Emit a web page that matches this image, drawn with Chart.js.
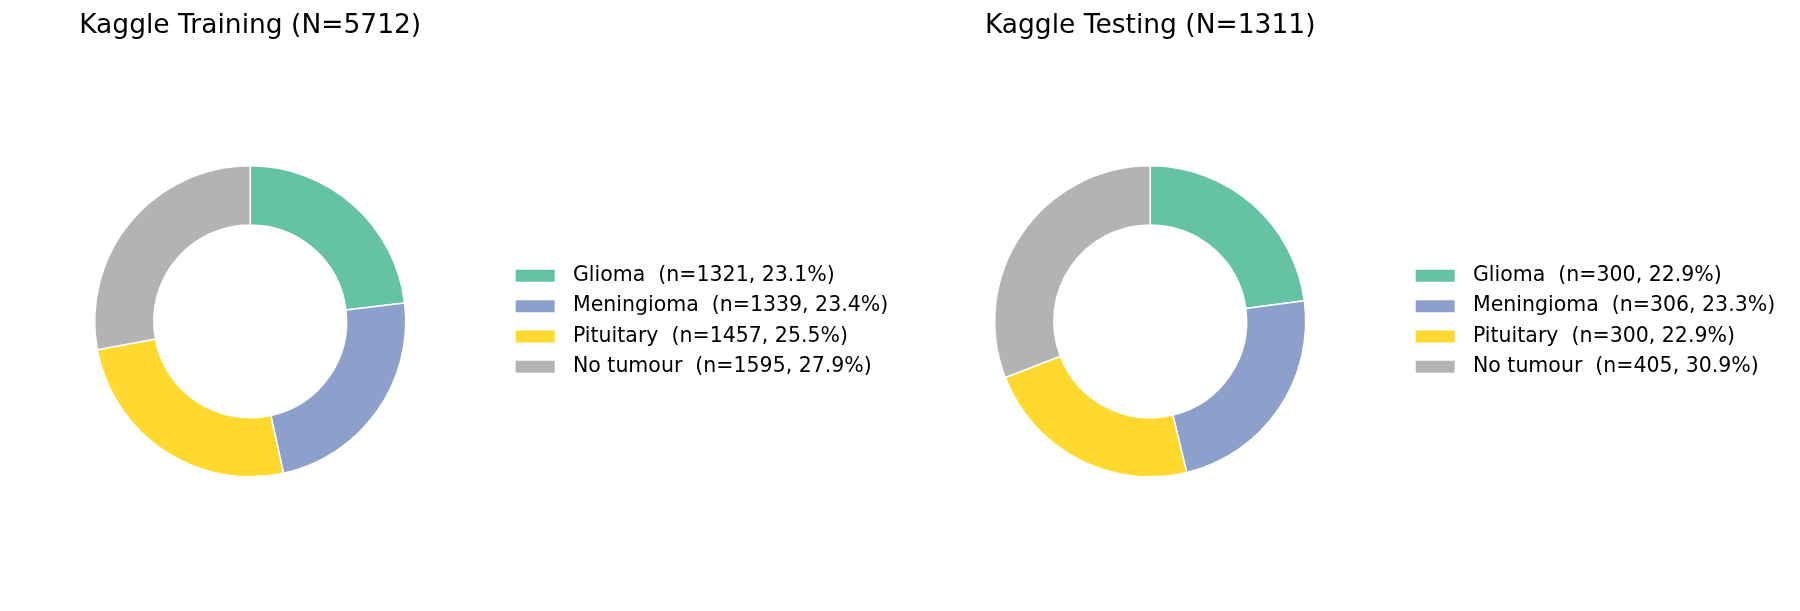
<!DOCTYPE html>
<html>
<head>
<meta charset="utf-8">
<script src="https://cdn.jsdelivr.net/npm/chart.js@4/dist/chart.umd.min.js"></script>
<style>
  html, body { margin: 0; padding: 0; background: #fff; overflow: hidden; }
  .row { display: flex; width: 1800px; height: 611px; margin-left: -5px; }
  canvas { display: block; flex: none; }
</style>
</head>
<body>
<div class="row">
  <canvas id="train" width="900" height="611"></canvas>
  <canvas id="test" width="900" height="611"></canvas>
</div>
<script>
const categories = ['Glioma', 'Meningioma', 'Pituitary', 'No tumour'];
const trainCounts = [1321, 1339, 1457, 1595];
const testCounts = [300, 306, 300, 405];
const colours = ['#66c2a5', '#8da0cb', '#ffd92f', '#b3b3b3'];

Chart.defaults.font.family = "'DejaVu Sans', sans-serif";
Chart.defaults.color = '#000';

// where the legend box should start inside each canvas
const LEGEND_LEFT = 510.4;

function makeDonut(id, name, counts) {
  const total = counts.reduce((a, b) => a + b, 0);
  const labels = categories.map((c, i) =>
    `${c}  (n=${counts[i]}, ${(counts[i] / total * 100).toFixed(1)}%)`);

  const chart = new Chart(document.getElementById(id), {
    type: 'doughnut',
    data: {
      labels: labels,
      datasets: [{
        data: counts,
        backgroundColor: colours,
        borderColor: '#fff',
        borderWidth: 1.5
      }]
    },
    options: {
      responsive: false,
      animation: false,
      radius: 155.5,
      cutout: '62%',
      layout: { padding: { left: 0, right: 0, top: 0, bottom: 10 } },
      plugins: {
        tooltip: { enabled: false },
        title: {
          display: true,
          fullSize: false,
          text: `${name} (N=${total})`,
          font: { size: 26.5, weight: 'normal' },
          color: '#000',
          padding: { top: 9.8, bottom: 0 }
        },
        legend: {
          position: 'right',
          fullSize: false,
          labels: {
            boxWidth: 55,
            boxHeight: 28,
            padding: 2.3,
            font: { size: 20.5 },
            color: '#000',
            // wide white stroke trims the patch to a 39x12 swatch
            generateLabels: (chart) => chart.data.labels.map((t, i) => ({
              text: t,
              fillStyle: colours[i],
              strokeStyle: '#fff',
              lineWidth: 16,
              fontColor: '#000',
              hidden: false,
              index: i
            }))
          }
        }
      }
    }
  });

  // push the legend to the wanted x now that its width is known
  chart.options.layout.padding.right = 900 - LEGEND_LEFT - chart.legend.width;
  chart.update();
  return chart;
}

makeDonut('train', 'Kaggle Training', trainCounts);
makeDonut('test', 'Kaggle Testing', testCounts);
</script>
</body>
</html>
